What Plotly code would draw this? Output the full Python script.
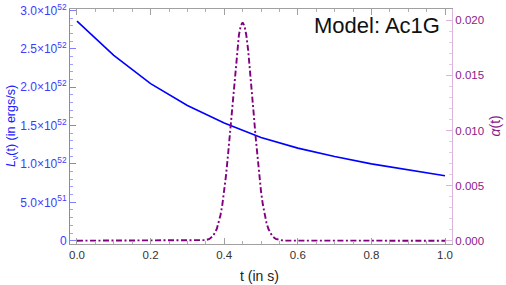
import plotly.graph_objects as go

# Luminosity L_nu(t) in ergs/s (piecewise linear, step 0.1 s)
t_L = [0.0, 0.1, 0.2, 0.3, 0.4, 0.5, 0.6, 0.7, 0.8, 0.9, 1.0]
L_vals = [2.86e52, 2.415e52, 2.046e52, 1.762e52, 1.533e52, 1.345e52,
          1.206e52, 1.097e52, 1.001e52, 0.923e52, 0.845e52]

# alpha(t)
t_a = [0.0, 0.1, 0.2, 0.3, 0.33, 0.34, 0.35, 0.36, 0.37, 0.38, 0.385, 0.39,
       0.395, 0.40, 0.405, 0.41, 0.415, 0.42, 0.425, 0.43, 0.435, 0.44, 0.445,
       0.45, 0.455, 0.46, 0.465, 0.47, 0.475, 0.48, 0.485, 0.49, 0.495, 0.50,
       0.505, 0.51, 0.515, 0.52, 0.53, 0.54, 0.55, 0.56, 0.57, 0.6, 0.7, 0.8,
       0.9, 1.0]
a_vals = [0.0, 0.0, 0.0, 0.0, 0.000004, 0.000015, 0.000052, 0.00016, 0.00044,
          0.00108, 0.00161, 0.00233, 0.00328, 0.00448, 0.00594, 0.00765,
          0.00956, 0.01159, 0.01365, 0.01561, 0.01732, 0.01866, 0.01951,
          0.0198, 0.01951, 0.01866, 0.01732, 0.01561, 0.01365, 0.01159,
          0.00956, 0.00765, 0.00594, 0.00448, 0.00328, 0.00233, 0.00161,
          0.00108, 0.00044, 0.00016, 0.000052, 0.000015, 0.000004, 0.0, 0.0,
          0.0, 0.0, 0.0]

x_ticks = [0.0, 0.2, 0.4, 0.6, 0.8, 1.0]
x_ticktext = ["0.0", "0.2", "0.4", "0.6", "0.8", "1.0"]
yL_ticks = [0, 0.5e52, 1.0e52, 1.5e52, 2.0e52, 2.5e52, 3.0e52]
yL_ticktext = ["0", "5.0×10<sup>51</sup>", "1.0×10<sup>52</sup>", "1.5×10<sup>52</sup>",
               "2.0×10<sup>52</sup>", "2.5×10<sup>52</sup>", "3.0×10<sup>52</sup>"]
ya_ticks = [0.0, 0.005, 0.010, 0.015, 0.020]
ya_ticktext = ["0.000", "0.005", "0.010", "0.015", "0.020"]

BLUE = "#0000ff"
PURPLE = "#800080"
FONT = "Liberation Sans, Arial, sans-serif"

fig = go.Figure()
fig.add_trace(go.Scatter(x=t_L, y=L_vals, mode="lines",
                         line=dict(color=BLUE, width=1.6), yaxis="y"))
fig.add_trace(go.Scatter(x=t_a, y=a_vals, mode="lines",
                         line=dict(color=PURPLE, width=1.9, dash="6px,2.5px,2px,2.5px"),
                         yaxis="y2"))

fig.update_layout(
    width=506, height=285,
    margin=dict(l=70, r=54, t=9, b=41),
    paper_bgcolor="white", plot_bgcolor="white",
    showlegend=False,
    font=dict(family=FONT),
    xaxis=dict(range=[-0.019, 1.019], tickvals=x_ticks, ticktext=x_ticktext,
               automargin=False,
               showgrid=False, zeroline=False, showline=True, linecolor="#a0a0a0",
               linewidth=1, mirror="ticks", ticks="inside", ticklen=6,
               tickcolor="#a0a0a0", tickfont=dict(size=11.5, color="#333333"),
               minor=dict(dtick=0.05, ticklen=3, tickcolor="#b0b0b0", ticks="inside")),
    yaxis=dict(range=[-0.043e52, 3.018e52], tickvals=yL_ticks, ticktext=yL_ticktext,
               automargin=False,
               showgrid=False, zeroline=False, showline=True, linecolor="#8080ff",
               linewidth=1, ticks="inside", ticklen=6, tickcolor="#8080ff",
               tickfont=dict(size=12, color="#3c3cff"),
               minor=dict(dtick=0.1e52, ticklen=3, tickcolor="#a0a0ff", ticks="inside")),
    yaxis2=dict(range=[-0.0003, 0.02102], tickvals=ya_ticks, ticktext=ya_ticktext,
                overlaying="y", side="right", automargin=False,
                showgrid=False, zeroline=False, showline=True, linecolor="#dcb4dc",
                linewidth=1, ticks="inside", ticklen=6, tickcolor="#dcb4dc",
                tickfont=dict(size=11.5, color="#8b1a8b"),
                minor=dict(dtick=0.001, ticklen=3, tickcolor="#e6c8e6", ticks="inside")),
    annotations=[
        dict(text="Model: Ac1G", xref="paper", yref="paper",
             x=0.975, y=0.93, xanchor="right", yanchor="middle",
             showarrow=False, font=dict(size=22, color="#111111", family=FONT)),
        dict(text="t (in s)", xref="paper", yref="paper", x=0.497, y=-0.135,
             xanchor="center", yanchor="middle", showarrow=False,
             font=dict(size=14, color="#222222")),
        dict(text="<i>L</i><sub>ν</sub>(t) (in ergs/s)", xref="paper", yref="paper",
             x=-0.153, y=0.5, xanchor="center", yanchor="middle", textangle=-90,
             showarrow=False, font=dict(size=12.5, color="#2020ff")),
        dict(text="<i>α</i>(t)", xref="paper", yref="paper",
             x=1.11, y=0.5, xanchor="center", yanchor="middle", textangle=-90,
             showarrow=False, font=dict(size=14, color="#8b1a8b")),
    ],
)

fig.write_html("out.html", config={"displayModeBar": False},
               post_script="document.body.style.margin='0';")
